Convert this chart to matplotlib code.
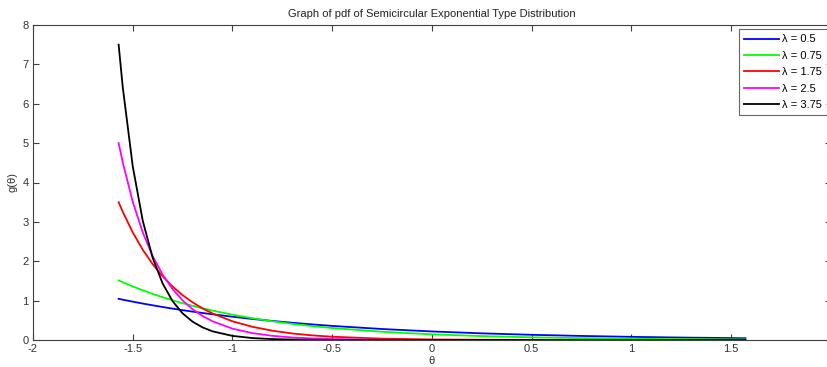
import matplotlib
matplotlib.use("Agg")
import matplotlib.pyplot as plt

# =========================================================
# DATA
# =========================================================

theta = [-1.5708, -1.55, -1.5, -1.45, -1.4, -1.35, -1.3, -1.25, -1.2, -1.15,
         -1.1, -1.0, -0.9, -0.8, -0.7, -0.6, -0.5, -0.25, 0.0, 0.25,
         0.5, 0.75, 1.0, 1.25, 1.5708]

g_05 = [1.045, 1.024, 0.974, 0.926, 0.881, 0.838, 0.797, 0.758, 0.721, 0.686,
        0.653, 0.591, 0.534, 0.484, 0.438, 0.396, 0.358, 0.279, 0.217, 0.169,
        0.132, 0.103, 0.080, 0.062, 0.045]

g_075 = [1.514, 1.467, 1.361, 1.263, 1.171, 1.087, 1.008, 0.935, 0.868, 0.805,
         0.747, 0.643, 0.553, 0.476, 0.410, 0.353, 0.304, 0.209, 0.144, 0.099,
         0.068, 0.047, 0.032, 0.022, 0.014]

g_175 = [3.500, 3.254, 2.732, 2.293, 1.925, 1.616, 1.357, 1.139, 0.956, 0.802,
         0.674, 0.475, 0.335, 0.236, 0.166, 0.117, 0.083, 0.034, 0.014, 0.006,
         0.003, 0.001, 0.0, 0.0, 0.0]

g_25 = [5.000, 4.506, 3.509, 2.733, 2.129, 1.658, 1.291, 1.005, 0.783, 0.610,
        0.475, 0.288, 0.175, 0.106, 0.064, 0.039, 0.024, 0.007, 0.002, 0.0,
        0.0, 0.0, 0.0, 0.0, 0.0]

g_375 = [7.500, 6.417, 4.410, 3.031, 2.083, 1.432, 0.984, 0.676, 0.465, 0.320,
         0.220, 0.104, 0.049, 0.023, 0.011, 0.005, 0.002, 0.0, 0.0, 0.0,
         0.0, 0.0, 0.0, 0.0, 0.0]

labels = ["\u03bb = 0.5", "\u03bb = 0.75", "\u03bb = 1.75", "\u03bb = 2.5", "\u03bb = 3.75"]
series = [g_05, g_075, g_175, g_25, g_375]
colors = ["#0000ff", "#00ff00", "#ff0000", "#ff00ff", "#000000"]

# the "2" label sits past the right edge of the image, so it is left blank
xticks = [-2, -1.5, -1, -0.5, 0, 0.5, 1, 1.5, 2]
xticklabels = ["-2", "-1.5", "-1", "-0.5", "0", "0.5", "1", "1.5", ""]
yticks = [0, 1, 2, 3, 4, 5, 6, 7, 8]

# =========================================================
# PLOT
# =========================================================

plt.rcParams["font.family"] = ["Liberation Sans", "DejaVu Sans"]
plt.rcParams["font.size"] = 8

fig = plt.figure(figsize=(8.28, 3.67), dpi=100)
ax = fig.add_axes([33 / 828, 27 / 367, 798 / 828, 315 / 367])

for y, lab, c in zip(series, labels, colors):
    ax.plot(theta, y, color=c, linewidth=1.3, label=lab)

ax.set_xlim(-2, 2)
ax.set_ylim(0, 8)
ax.set_xticks(xticks)
ax.set_xticklabels(xticklabels)
ax.set_yticks(yticks)
ax.tick_params(direction="in", length=4, width=0.8, top=True, right=True,
               colors="#404040", labelcolor="#333333", labelsize=8, pad=3)
for s in ax.spines.values():
    s.set_color("#404040")
    s.set_linewidth(0.8)

ax.set_title("Graph of pdf of Semicircular Exponential Type Distribution",
             fontsize=8, color="#222222", pad=6)
ax.set_xlabel("\u03b8", fontsize=8, color="#333333", labelpad=1)
ax.set_ylabel("g(\u03b8)", fontsize=8, color="#333333", labelpad=4)

leg = ax.legend(loc="upper right", fontsize=8, frameon=True, fancybox=False,
                handlelength=3.1, handletextpad=0.25, labelspacing=0.58,
                borderpad=0.45, borderaxespad=0.4)
leg.get_frame().set_edgecolor("#404040")
leg.get_frame().set_linewidth(0.8)

fig.savefig("out.png", dpi=100)
